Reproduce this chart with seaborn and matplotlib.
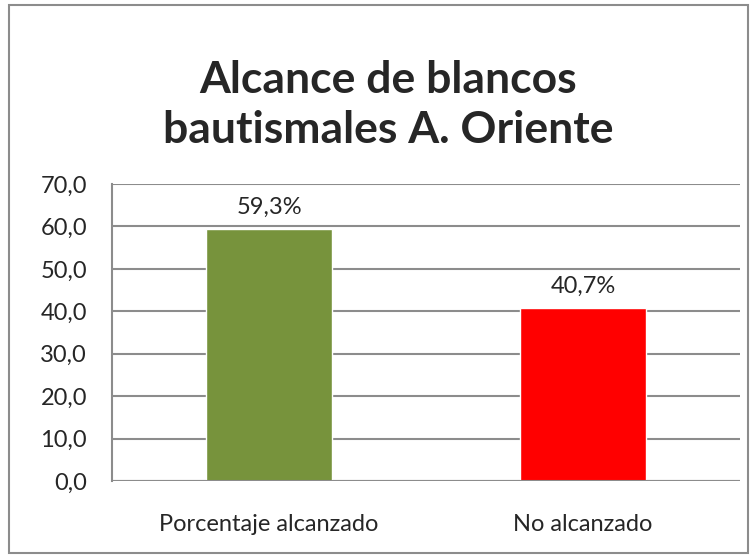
import matplotlib
matplotlib.use("Agg")
import matplotlib.pyplot as plt
import seaborn as sns
import pandas as pd
from matplotlib.patches import Rectangle

# Datos
categorias = ["Porcentaje alcanzado", "No alcanzado"]
valores = [59.3, 40.7]
etiquetas = ["59,3%", "40,7%"]
colores = ["#77933C", "#FF0000"]
yticks = [0, 10, 20, 30, 40, 50, 60, 70]

df = pd.DataFrame({"Categoria": categorias, "Valor": valores})

sns.set_style("white")
plt.rcParams["font.family"] = ["Lato", "DejaVu Sans"]

fig = plt.figure(figsize=(7.52, 5.57), dpi=100)
ax = fig.add_axes([112 / 752, 1 - 481 / 557, (740 - 112) / 752, (481 - 184) / 557])

sns.barplot(data=df, x="Categoria", y="Valor", hue="Categoria", palette=colores,
            width=0.4, legend=False, ax=ax, zorder=3, saturation=1)

ax.set_ylim(0, 70)
ax.set_yticks(yticks)
ax.set_yticklabels([f"{v:.1f}".replace(".", ",") for v in yticks], fontsize=17)
ax.tick_params(axis="x", labelsize=17, pad=24, length=0)
ax.tick_params(axis="y", pad=18, length=0)
ax.set_xlabel("")
ax.set_ylabel("")
ax.yaxis.grid(True, color="#8C8C8C", linewidth=1.5, zorder=0)
for s in ["top", "right", "bottom"]:
    ax.spines[s].set_visible(False)
ax.spines["left"].set_color("#8C8C8C")
ax.spines["left"].set_linewidth(1.5)
ax.axhline(0, color="#8C8C8C", linewidth=1.5, zorder=4)

for i, (v, t) in enumerate(zip(valores, etiquetas)):
    ax.text(i, v + 2.8, t, ha="center", va="bottom", fontsize=17)

fig.text(388 / 752, 1 - 105 / 557, "Alcance de blancos\nbautismales A. Oriente", ha="center",
         va="center", fontsize=32, fontweight="bold", linespacing=1.3)

fig.patches.append(Rectangle((9 / 752, 4 / 557), 739 / 752, 548 / 557, transform=fig.transFigure,
                             fill=False, edgecolor="#8C8C8C", linewidth=1.5))

fig.savefig("out.png", dpi=100)
